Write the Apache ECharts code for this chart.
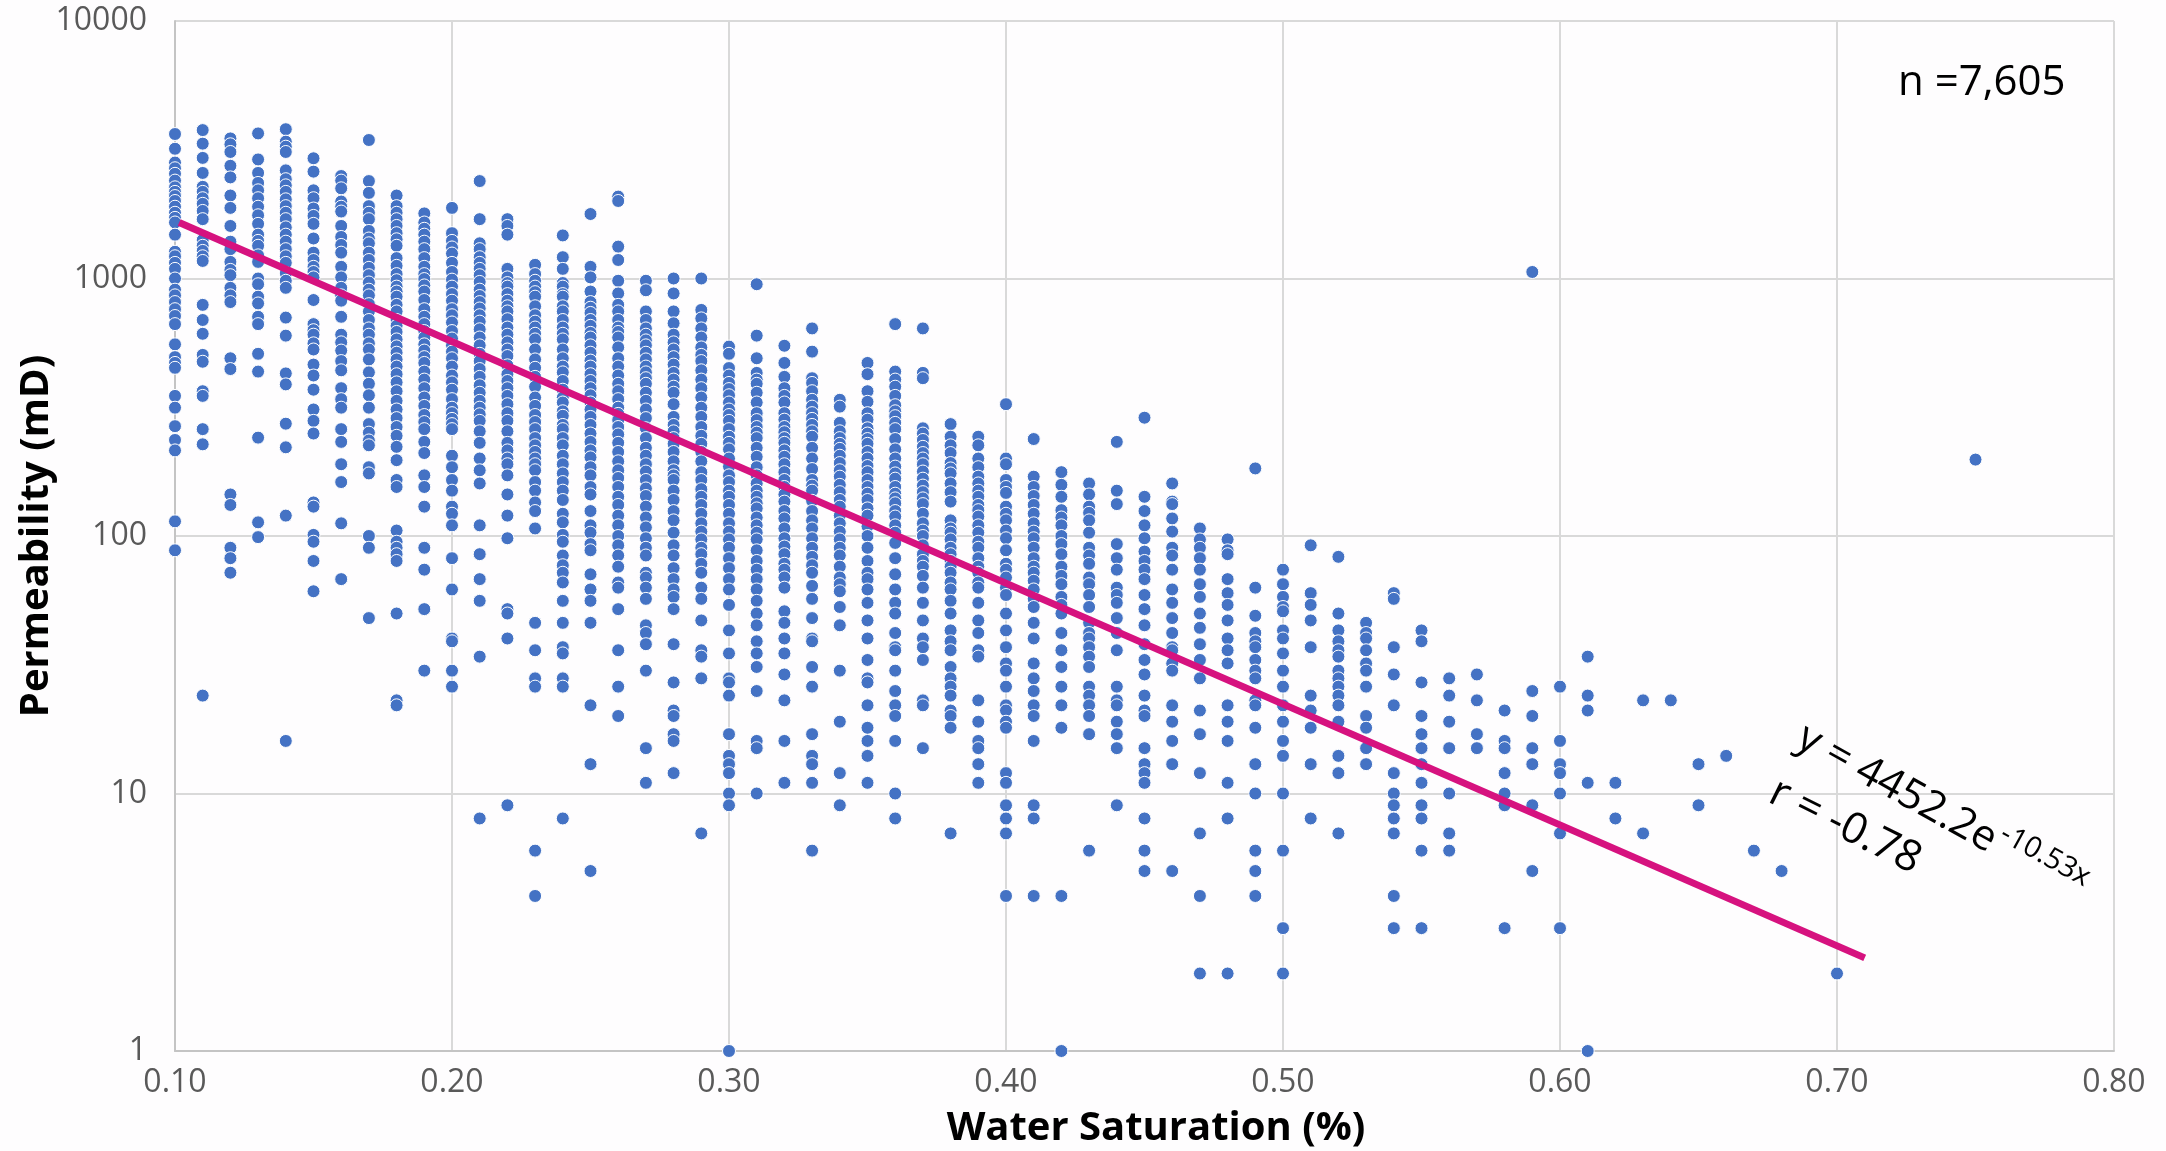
<!DOCTYPE html>
<html><head><meta charset="utf-8">
<style>html,body{margin:0;padding:0;background:#fefdfe}#c{width:2166px;height:1151px}</style>
<script src="https://cdn.jsdelivr.net/npm/echarts@6/dist/echarts.min.js"></script>
</head><body><div id="c"></div>
<script>
const s10=[3640,3190,2820,2680,2550,2400,2260,2170,2090,2000,1900,1800,1720,1650,1480,1270,1220,1150,1090,1000,905,860,810,760,715,665,555,495,470,450,350,315,267,236,215,114,88];
const s11=[3770,3340,2940,2570,2270,2170,2050,1950,1830,1700,1410,1340,1280,1220,1170,790,690,610,505,475,365,350,260,227,24];
const s12=[3500,3320,3100,2740,2470,2100,1880,1600,1390,1300,1160,1080,1030,920,860,810,490,445,145,132,90,82,72];
const s13=[3660,2900,2570,2350,2200,2050,1900,1760,1630,1480,1400,1340,1230,1160,1000,950,850,800,710,665,510,435,241,113,99];
const s14=[3800,3400,3250,3100,2630,2430,2300,2170,2030,1910,1800,1700,1580,1480,1390,1300,1220,1150,1050,980,920,705,600,428,388,273,221,120,16];
const s15=[2930,2600,2200,2050,1870,1750,1630,1430,1260,1180,1110,1060,1010,825,665,630,605,560,530,463,420,370,310,280,250,135,130,101,95,80,61];
const s16=[2500,2400,2240,1990,1900,1820,1600,1450,1350,1260,1110,1010,920,860,820,710,605,565,525,478,440,375,340,315,260,232,190,162,112,68];
const s17=[3450,2390,2150,1910,1800,1700,1530,1430,1370,1260,1180,1100,1030,965,905,860,795,745,690,640,605,560,530,485,432,390,352,315,272,252,235,225,185,175,100,90,48];
const s18=[2100,1910,1800,1700,1600,1500,1420,1340,1200,1120,1040,985,930,890,850,790,745,690,655,620,580,545,515,485,455,425,395,365,335,310,287,265,245,222,197,165,155,105,95,90,85,80,50,23,22];
const s19=[1790,1650,1560,1480,1390,1300,1200,1110,1040,995,940,890,825,760,710,665,625,590,555,525,495,470,435,405,375,345,320,295,277,260,232,210,172,155,130,90,74,52,30];
const s20=[1880,1500,1400,1320,1250,1150,1060,990,930,870,820,760,720,675,625,585,550,520,490,455,420,395,370,340,315,300,285,272,260,205,185,165,150,130,122,110,82,62,40,39,30,26];
const s21=[2390,1700,1370,1300,1210,1150,1090,1030,970,905,855,810,765,720,680,635,590,550,510,478,445,415,385,360,335,315,297,280,255,230,200,180,160,110,85,68,56,34,8];
const s22=[1700,1600,1480,1090,1010,960,930,870,820,780,745,695,645,605,565,530,500,460,425,400,375,350,325,300,280,255,230,215,200,190,172,145,120,98,52,50,40,9];
const s23=[1130,1040,980,930,885,850,780,720,680,645,610,580,530,485,450,415,380,345,320,295,277,260,240,225,212,200,190,180,162,150,135,125,107,46,36,28,26,6,4];
const s24=[1470,1210,1090,960,930,870,850,780,745,690,645,610,580,530,490,455,432,400,370,345,330,305,293,270,260,240,225,205,190,175,162,150,138,122,113,101,95,84,77,72,66,56,46,37,35,28,26,8];
const s25=[1780,1110,1010,890,810,770,735,690,655,615,590,550,515,480,455,425,400,375,352,330,310,290,270,250,232,215,202,185,172,155,145,125,110,103,93,88,71,62,56,46,22,13,5];
const s26=[2080,2000,1330,1180,980,875,790,745,690,645,620,590,540,490,455,420,390,365,340,315,298,282,265,248,230,212,195,180,168,155,142,132,120,110,100,92,84,76,66,63,52,36,26,20];
const s27=[980,900,745,690,640,605,575,550,515,485,455,432,410,390,360,335,310,287,262,240,220,205,190,178,165,153,143,130,118,108,98,90,84,72,69,63,57,45,42,38,30,15,11];
const s28=[1000,875,745,670,605,565,530,495,463,430,405,380,360,325,290,270,255,240,228,212,195,180,172,165,150,138,125,115,103,92,84,75,68,62,58,52,38,27,21,20,17,16,12];
const s29=[1000,755,700,640,590,540,505,478,440,405,375,345,315,290,265,245,228,212,195,177,165,152,142,132,122,112,104,97,90,85,78,72,63,57,47,36,34,28,7];
const s30=[544,510,449,420,393,372,352,330,310,295,280,260,243,230,217,200,186,172,162,150,142,132,122,112,104,97,90,82,75,68,62,54,43,35,28,27,24,17,14,13,12,10,9,1];
const s31=[950,600,490,430,405,390,360,330,300,282,265,252,240,220,203,185,172,160,150,142,134,128,118,110,103,97,88,80,74,68,62,56,50,45,39,35,31,25,16,15,10];
const s32=[548,470,415,375,350,330,300,283,265,253,240,230,215,203,190,177,165,155,145,136,125,117,107,98,91,85,78,74,69,63,51,46,40,35,29,23,16,11];
const s33=[640,520,410,393,365,338,318,300,285,270,255,243,220,200,182,165,157,150,137,125,115,107,98,90,83,77,72,64,57,48,40,39,31,26,17,14,13,11,6];
const s34=[338,318,275,255,240,228,218,205,192,180,170,158,148,138,130,120,112,104,97,90,84,76,69,65,61,53,45,30,19,12,9];
const s35=[470,425,365,332,300,283,262,250,238,228,212,200,187,177,165,155,146,138,128,120,109,100,90,80,72,68,62,55,47,40,33,28,27,22,18,16,14,11];
const s36=[665,435,405,380,350,322,305,292,275,260,238,217,200,186,175,167,155,146,140,134,125,119,110,103,94,82,71,62,55,50,42,37,36,30,25,22,20,16,10,8];
const s37=[640,430,410,262,250,236,222,210,200,190,178,167,157,148,140,133,122,112,105,100,92,85,80,76,70,63,55,47,40,37,33,23,22,15];
const s38=[272,243,225,210,192,183,175,160,148,136,115,107,103,97,90,85,80,76,72,66,62,56,50,43,39,36,31,28,26,24,21,20,18,7];
const s39=[243,225,200,185,170,160,150,142,132,126,119,110,103,95,90,82,76,72,66,63,55,47,42,36,34,23,19,16,15,13,11];
const s40=[325,200,190,165,155,147,130,122,115,105,98,88,78,74,69,63,59,50,43,37,32,30,26,22,21,19,18,12,11,9,8,7,4];
const s41=[238,170,155,143,132,122,112,104,98,90,82,76,72,67,62,57,53,46,40,32,28,25,22,20,16,9,8,4];
const s42=[177,158,142,126,118,110,100,93,85,76,70,65,58,54,50,42,36,31,26,22,18,4,1];
const s43=[160,145,130,123,115,103,90,84,78,69,65,59,53,46,42,40,37,34,31,26,24,22,20,17,6];
const s44=[232,150,133,93,82,74,63,59,55,48,42,36,26,23,22,19,17,15,9];
const s45=[288,142,125,110,98,87,80,74,68,59,52,45,38,33,29,24,21,20,15,13,12,11,8,6,5];
const s46=[160,136,133,117,104,90,84,74,62,55,48,42,37,36,32,30,22,19,16,13,5];
const s47=[107,97,90,82,74,65,58,50,44,38,33,28,21,17,12,7,4,2];
const s48=[97,88,85,68,60,54,47,40,36,32,22,19,16,11,8,2];
const s49=[183,63,49,42,39,37,33,30,28,23,22,18,13,10,6,5,4];
const s50=[74,65,58,53,51,43,40,35,30,26,22,19,16,14,10,6,3,2];
const s51=[92,60,54,47,37,24,21,18,13,8];
const s52=[83,50,43,39,36,34,30,28,26,24,22,19,14,12,7];
const s53=[46,42,40,36,32,30,26,20,18,15,13];
const s54=[60,57,37,29,22,12,10,9,8,7,4,3];
const s55=[43,39,27,20,17,15,13,11,9,8,6,3];
const s56=[28,24,19,15,10,7,6];
const s57=[29,23,17,15];
const s58=[21,16,15,12,10,9,3];
const s59=[1060,25,20,15,13,9,5];
const s60=[26,16,13,12,10,7,3];
const s61=[34,24,21,11,1];
const s62=[11,8];
const s63=[23,7];
const s64=[23];
const s65=[13,9];
const s66=[14];
const s67=[6];
const s68=[5];
const s70=[2];
const s75=[198];
const waterSat=[0.10,0.11,0.12,0.13,0.14,0.15,0.16,0.17,0.18,0.19,0.20,0.21,0.22,0.23,0.24,0.25,0.26,0.27,0.28,0.29,0.30,0.31,0.32,0.33,0.34,0.35,0.36,0.37,0.38,0.39,0.40,0.41,0.42,0.43,0.44,0.45,0.46,0.47,0.48,0.49,0.50,0.51,0.52,0.53,0.54,0.55,0.56,0.57,0.58,0.59,0.60,0.61,0.62,0.63,0.64,0.65,0.66,0.67,0.68,0.70,0.75];
const permeability=[s10,s11,s12,s13,s14,s15,s16,s17,s18,s19,s20,s21,s22,s23,s24,s25,s26,s27,s28,s29,s30,s31,s32,s33,s34,s35,s36,s37,s38,s39,s40,s41,s42,s43,s44,s45,s46,s47,s48,s49,s50,s51,s52,s53,s54,s55,s56,s57,s58,s59,s60,s61,s62,s63,s64,s65,s66,s67,s68,s70,s75];
const trendX=[0.1015,0.71];
const trendY=[1650,2.3];
const FONT='"Open Sans"';
const points=[];
waterSat.forEach((x,i)=>permeability[i].forEach(v=>points.push([x,v])));
const chart=echarts.init(document.getElementById('c'),null,{renderer:'canvas'});
chart.setOption({
  animation:false,
  backgroundColor:'#fefdfe',
  grid:{left:175,right:52,top:21,bottom:100,containLabel:false,outerBoundsMode:'none'},
  xAxis:{type:'value',min:0.1,max:0.8,interval:0.1,
    name:'Water Saturation (%)',nameLocation:'middle',nameGap:58,nameMoveOverlap:false,
    nameTextStyle:{fontFamily:FONT,fontWeight:'bold',fontSize:40,color:'#000',padding:[0,0,0,23]},
    axisLine:{show:true,onZero:false,lineStyle:{color:'#c4c4c4',width:2}},axisTick:{show:false},
    axisLabel:{fontFamily:FONT,fontSize:32,color:'#595959',margin:16,formatter:v=>v.toFixed(2)},
    splitLine:{show:true,lineStyle:{color:'#d9d9d9',width:2}}},
  yAxis:{type:'log',logBase:10,min:1,max:10000,
    name:'Permeability (mD)',nameLocation:'middle',nameGap:118,nameMoveOverlap:false,
    nameTextStyle:{fontFamily:FONT,fontWeight:'bold',fontSize:40,color:'#000'},
    axisLine:{show:true,onZero:false,lineStyle:{color:'#c4c4c4',width:2}},axisTick:{show:false},
    axisLabel:{fontFamily:FONT,fontSize:32,color:'#595959',margin:28,formatter:v=>String(Math.round(v))},
    splitLine:{show:true,lineStyle:{color:'#d9d9d9',width:2}},minorSplitLine:{show:false}},
  series:[
    {type:'scatter',data:points,symbol:'circle',symbolSize:13,clip:false,large:false,
     itemStyle:{color:'#4472c4',borderColor:'#ffffff',borderWidth:1,opacity:1}},
    {type:'line',data:trendX.map((x,i)=>[x,trendY[i]]),showSymbol:false,symbol:'none',clip:false,z:5,
     lineStyle:{color:'#d6127f',width:7,cap:'butt'}}
  ],
  graphic:[
    {type:'text',x:1898,y:83,z:10,style:{text:'n =7,605',font:'42px "Open Sans"',fill:'#000',verticalAlign:'middle',align:'left'}},
    {type:'text',x:1800,y:735,z:10,rotation:-29*Math.PI/180,style:{text:'y = 4452.2e',font:'42px "Open Sans"',fill:'#000',verticalAlign:'middle',align:'left'}},
    {type:'text',x:2002,y:832,z:10,rotation:-29*Math.PI/180,style:{text:'-10.53x',font:'29px "Open Sans"',fill:'#000',verticalAlign:'middle',align:'left'}},
    {type:'text',x:1772,y:790,z:10,rotation:-26.5*Math.PI/180,style:{text:'r = -0.78',font:'43px "Open Sans"',fill:'#000',verticalAlign:'middle',align:'left'}}
  ]
});
</script></body></html>
